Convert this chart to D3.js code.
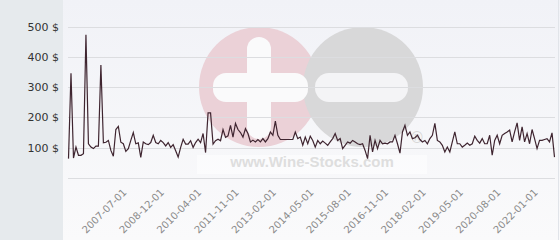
<!DOCTYPE html>
<html>
<head>
<meta charset="utf-8">
<script src="https://cdn.jsdelivr.net/npm/d3@7"></script>
<style>
  html, body { margin: 0; padding: 0; background: #ffffff; }
  svg { display: block; }
</style>
</head>
<body>
<svg id="chart" width="560" height="240"></svg>
<script>
// monthly prices (one point per listed month, gaps in the calendar are skipped)
const prices = [
  64, 346, 66, 102, 75, 75, 80, 473, 113, 102, 97, 105, 105, 373, 116, 118, 124, 91, 72, 160,
  170, 118, 113, 88, 97, 124, 150, 113, 116, 68,
  119, 113, 110, 117, 141, 117, 113, 124, 117, 106, 117, 101, 110, 90, 69, 101, 128, 112, 112, 123,
  101, 117, 128, 117, 147, 84, 215, 215, 112, 123, 128, 123, 160, 134, 139,
  174, 135, 180, 160, 150, 135, 163, 147, 119, 125, 119, 127, 119, 130, 119, 130, 152, 141, 188, 141,
  127, 127, 127, 127, 127, 127, 152, 130, 135, 108, 135, 113,
  138, 124, 102, 124, 113, 122, 115, 108, 119, 130, 147, 124, 130, 97, 108, 119, 115, 124, 119, 113,
  110, 113, 91, 64, 141, 86, 124, 97, 124, 113, 115, 113, 119, 119, 141,
  113, 82, 152, 174, 141, 152, 130, 133, 141, 127, 119, 124, 113, 130, 141, 180, 124, 119, 108, 86,
  102, 86, 119, 152, 113, 113, 102, 108, 115, 108, 113,
  138, 124, 115, 130, 113, 113, 141, 75, 124, 141, 113, 141, 147, 152, 158, 119, 152, 182, 124, 169,
  119, 147, 113, 160, 130, 97, 124, 124, 127, 130, 119, 149, 69
];

// labelled categories: position in the series and the month shown
const tick_index = [23, 38, 53, 68, 83, 98, 113, 128, 143, 158, 173, 188];
const tick_labels = [
  "2007-07-01", "2008-12-01", "2010-04-01", "2011-11-01", "2013-02-01", "2014-05-01",
  "2015-08-01", "2016-11-01", "2018-02-01", "2019-05-01", "2020-08-01", "2022-01-01"
];
const y_ticks = [100, 200, 300, 400, 500];

const width = 560;
const height = 240;
const panel_width = 63;
const margin = { top: 26.5, right: 5, bottom: 62, left: 68 };

const svg = d3.select("#chart");

const x = d3
  .scalePoint()
  .domain(d3.range(prices.length))
  .range([68.5, 554.5]);

const y = d3
  .scaleLinear()
  .domain([0, 500])
  .range([height - margin.bottom, margin.top]);

// backgrounds
const defs = svg.append("defs");
const grad = defs
  .append("linearGradient")
  .attr("id", "plot-bg")
  .attr("x1", 0)
  .attr("y1", 0)
  .attr("x2", 0)
  .attr("y2", 1);
grad.append("stop").attr("offset", "0%").attr("stop-color", "#f1f2f7");
grad.append("stop").attr("offset", "100%").attr("stop-color", "#fafafb");

svg
  .append("rect")
  .attr("x", panel_width)
  .attr("y", 0)
  .attr("width", width - panel_width)
  .attr("height", height)
  .attr("fill", "url(#plot-bg)");

svg
  .append("rect")
  .attr("x", 0)
  .attr("y", 0)
  .attr("width", panel_width)
  .attr("height", height)
  .attr("fill", "#e6eaed");

svg
  .append("line")
  .attr("x1", width - 1.5)
  .attr("x2", width - 1.5)
  .attr("y1", 0)
  .attr("y2", height)
  .attr("stroke", "#e1e4e9");

// watermark
const mark = svg.append("g").attr("class", "watermark");
mark.append("circle").attr("cx", 259).attr("cy", 87).attr("r", 60).attr("fill", "#ebd1d7");
mark.append("circle").attr("cx", 363).attr("cy", 87).attr("r", 60).attr("fill", "#d8d8d9");
mark
  .append("rect")
  .attr("x", 247)
  .attr("y", 37)
  .attr("width", 24)
  .attr("height", 102)
  .attr("rx", 12)
  .attr("fill", "#fafafb");
mark
  .append("rect")
  .attr("x", 213)
  .attr("y", 73)
  .attr("width", 95)
  .attr("height", 29)
  .attr("rx", 13)
  .attr("fill", "#fafafb");
mark
  .append("rect")
  .attr("x", 315)
  .attr("y", 73)
  .attr("width", 93)
  .attr("height", 29)
  .attr("rx", 14)
  .attr("fill", "#f4f4f6");
mark
  .append("rect")
  .attr("x", 197)
  .attr("y", 155)
  .attr("width", 230)
  .attr("height", 19)
  .attr("fill", "#ffffff")
  .attr("opacity", 0.55);
mark
  .append("text")
  .attr("x", 312)
  .attr("y", 167)
  .attr("text-anchor", "middle")
  .attr("font-family", "'Liberation Sans', Arial, sans-serif")
  .attr("font-weight", "bold")
  .attr("font-size", 15)
  .attr("fill", "#dedede")
  .text("www.Wine-Stocks.com");
mark
  .append("text")
  .attr("x", 417)
  .attr("y", 143)
  .attr("text-anchor", "middle")
  .attr("font-family", "'DejaVu Sans', sans-serif")
  .attr("font-size", 15)
  .attr("fill", "#d6d6d6")
  .text("\u00ae");

// grid lines, including the zero line along the bottom
svg
  .append("g")
  .attr("class", "grid")
  .selectAll("line")
  .data([0].concat(y_ticks))
  .join("line")
  .attr("x1", margin.left)
  .attr("x2", width - margin.right)
  .attr("y1", (d) => Math.round(y(d)) + 0.5)
  .attr("y2", (d) => Math.round(y(d)) + 0.5)
  .attr("stroke", "#dcdde0")
  .attr("stroke-width", 1);

// y axis labels
const y_axis = svg
  .append("g")
  .attr("transform", `translate(${margin.left},0)`)
  .call(
    d3
      .axisLeft(y)
      .tickValues(y_ticks)
      .tickSize(0)
      .tickPadding(9)
      .tickFormat((d) => `${d} $`)
  );
y_axis.select(".domain").remove();
y_axis
  .selectAll("text")
  .attr("font-family", "'DejaVu Sans', sans-serif")
  .attr("font-size", 11)
  .attr("fill", "#333333");

// x axis labels, rotated
const x_axis = svg
  .append("g")
  .attr("transform", `translate(0,${y(0)})`)
  .call(
    d3
      .axisBottom(x)
      .tickValues(tick_index)
      .tickSize(0)
      .tickFormat((d, i) => tick_labels[i])
  );
x_axis.select(".domain").remove();
x_axis
  .selectAll("text")
  .attr("x", 0)
  .attr("y", 0)
  .attr("dy", null)
  .attr("text-anchor", "end")
  .attr("transform", "translate(1,15) rotate(-45)")
  .attr("font-family", "'DejaVu Sans', sans-serif")
  .attr("font-size", 10)
  .attr("fill", "#8a8a8a");

// price line
const line = d3
  .line()
  .x((d, i) => x(i))
  .y((d) => y(d));

svg
  .append("path")
  .datum(prices)
  .attr("fill", "none")
  .attr("stroke", "#3f2530")
  .attr("stroke-width", 1.2)
  .attr("stroke-linejoin", "miter")
  .attr("d", line);
</script>
</body>
</html>
